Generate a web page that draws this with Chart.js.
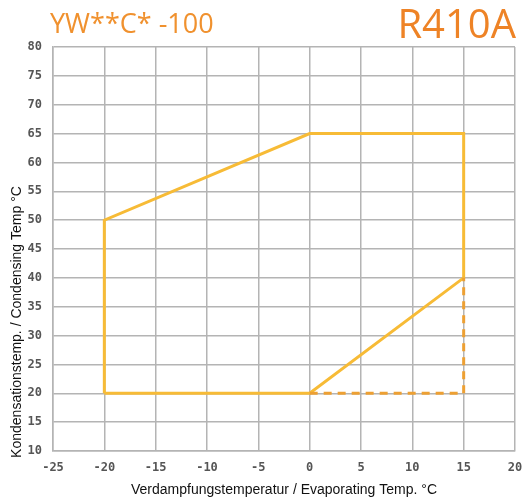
<!DOCTYPE html>
<html>
<head>
<meta charset="utf-8">
<script src="https://cdn.jsdelivr.net/npm/chart.js@4/dist/chart.umd.min.js"></script>
<style>
  html, body { margin: 0; padding: 0; background: #fff; }
  #wrap { width: 523px; height: 497px; position: relative; }
</style>
</head>
<body>
<div id="wrap"><canvas id="envelope"></canvas></div>
<script>
// Einsatzgrenzen R410A
const envelopeX = [-20, -20, 0, 15, 15, 0, -20];
const envelopeY = [20, 50, 65, 65, 40, 20, 20];
const dashedX = [0, 15, 15];
const dashedY = [20, 20, 40];
const xTicks = [-25, -20, -15, -10, -5, 0, 5, 10, 15, 20];
const yTicks = [10, 15, 20, 25, 30, 35, 40, 45, 50, 55, 60, 65, 70, 75, 80];

function toPoints(xs, ys) {
    return xs.map((x, i) => ({ x: x, y: ys[i] }));
}

// Texte (Titel + Achsenbeschriftungen) selbst zeichnen
const textPlugin = {
    id: 'texts',
    afterDraw(chart) {
        const c = chart.ctx;
        c.save();
        c.fillStyle = '#f0912e';
        c.textBaseline = 'alphabetic';
        c.font = '27px "Open Sans", sans-serif';
        c.textAlign = 'left';
        c.fillText('YW**C* -100', 50, 33);
        c.fillStyle = '#ee8326';
        c.font = '40px "Open Sans", sans-serif';
        c.textAlign = 'right';
        c.fillText('R410A', 516, 38);

        c.fillStyle = '#111';
        c.font = '14px "Liberation Sans", Arial, sans-serif';
        c.textAlign = 'center';
        c.fillText('Verdampfungstemperatur / Evaporating Temp. °C', 284, 494);
        c.translate(21, 322);
        c.rotate(-Math.PI / 2);
        c.fillText('Kondensationstemp. / Condensing Temp °C', 0, 0);
        c.restore();
    }
};

const ctx = document.getElementById('envelope').getContext('2d');
new Chart(ctx, {
    type: 'scatter',
    data: {
        datasets: [{
            data: toPoints(dashedX, dashedY),
            showLine: true,
            borderColor: '#eda033',
            borderWidth: 3,
            borderDash: [8, 6],
            pointRadius: 0,
            fill: false
        }, {
            data: toPoints(envelopeX, envelopeY),
            showLine: true,
            borderColor: '#f7bb36',
            borderWidth: 3,
            pointRadius: 0,
            fill: false
        }]
    },
    options: {
        responsive: true,
        maintainAspectRatio: false,
        animation: false,
        layout: { padding: { left: 0, right: 0, top: 47, bottom: 0 } },
        plugins: {
            legend: { display: false },
            title: { display: false },
            tooltip: { enabled: false }
        },
        scales: {
            x: {
                type: 'linear',
                min: -25,
                max: 20,
                afterBuildTicks: axis => { axis.ticks = xTicks.map(v => ({ value: v })); },
                afterFit: axis => { axis.height = 46; axis.paddingRight = 8; },
                grid: { color: '#b4b4b4', lineWidth: 1.5, drawTicks: false },
                border: { color: '#b4b4b4', width: 1.5 },
                ticks: {
                    padding: 10,
                    color: '#555',
                    font: { family: '"DejaVu Sans Mono", monospace', size: 12, weight: 'bold' }
                }
            },
            y: {
                type: 'linear',
                min: 10,
                max: 80,
                afterBuildTicks: axis => { axis.ticks = yTicks.map(v => ({ value: v })); },
                afterFit: axis => { axis.width = 53; },
                grid: { color: '#b4b4b4', lineWidth: 1.5, drawTicks: false },
                border: { color: '#b4b4b4', width: 1.5 },
                ticks: {
                    padding: 11,
                    color: '#555',
                    font: { family: '"DejaVu Sans Mono", monospace', size: 12, weight: 'bold' }
                }
            }
        }
    },
    plugins: [textPlugin]
});
</script>
</body>
</html>
